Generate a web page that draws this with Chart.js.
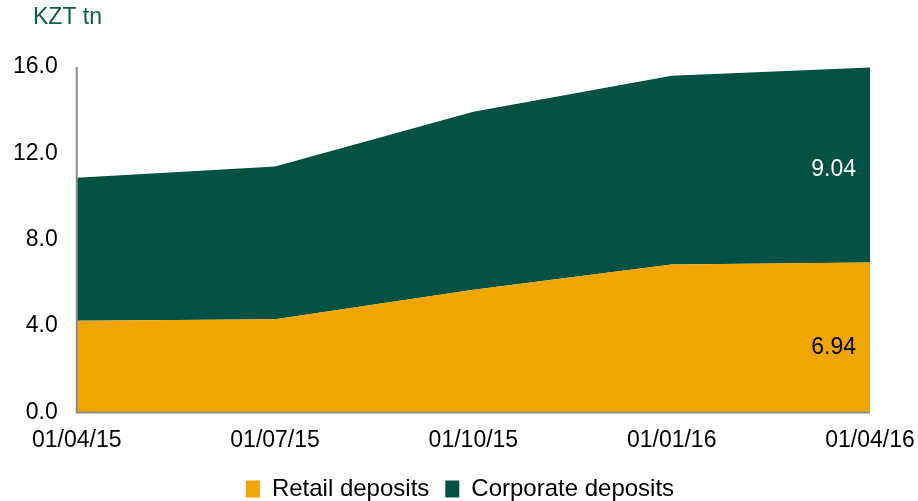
<!DOCTYPE html>
<html><head><meta charset="utf-8">
<script src="https://cdn.jsdelivr.net/npm/chart.js@4"></script>
<style>html,body{margin:0;padding:0;background:#fff}#wrap{width:918px;height:501px}</style>
</head><body><div id="wrap"><canvas id="c" width="918" height="501"></canvas></div>
<script>
const categories = ["01/04/15", "01/07/15", "01/10/15", "01/01/16", "01/04/16"];
const retail = [4.25, 4.32, 5.68, 6.85, 6.94];
const corporate = [6.62, 7.07, 8.25, 8.74, 9.04];
const yTicks = [0, 4, 8, 12, 16];
const unitLabel = "KZT tn";

const FONT = "'Liberation Sans', Arial, sans-serif";

const extras = {
  id: 'extras',
  afterDraw(chart) {
    const ctx = chart.ctx;
    const ca = chart.chartArea;
    const xs = chart.scales.x, ys = chart.scales.y;
    ctx.save();
    ctx.font = "23px " + FONT;
    ctx.fillStyle = "#0B5E4B";
    ctx.textAlign = "left";
    ctx.textBaseline = "middle";
    ctx.fillText(unitLabel, 33, 18);
    ctx.strokeStyle = "#8c8c8c";
    ctx.lineWidth = 2;
    ctx.beginPath();
    ctx.moveTo(ca.left, ys.getPixelForValue(16));
    ctx.lineTo(ca.left, ys.getPixelForValue(0));
    ctx.lineTo(ca.right, ys.getPixelForValue(0));
    ctx.stroke();
    const i = categories.length - 1;
    const xl = xs.getPixelForValue(i) - 14;
    ctx.textAlign = "right";
    ctx.fillStyle = "#000";
    ctx.fillText(retail[i].toFixed(2), xl, ys.getPixelForValue(retail[i] / 2) + 10);
    ctx.fillStyle = "#fff";
    ctx.fillText(corporate[i].toFixed(2), xl, ys.getPixelForValue(retail[i] + corporate[i] / 2) + 5);
    ctx.restore();
  }
};

new Chart(document.getElementById('c'), {
  type: 'line',
  data: {
    labels: categories,
    datasets: [
      { label: 'Retail deposits', data: retail, backgroundColor: '#F0A500', borderColor: '#F0A500', borderWidth: 0, pointRadius: 0, fill: 'origin', tension: 0 },
      { label: 'Corporate deposits', data: corporate, backgroundColor: '#015244', borderColor: '#015244', borderWidth: 0, pointRadius: 0, fill: '-1', tension: 0 }
    ]
  },
  options: {
    responsive: false,
    animation: false,
    layout: { padding: { top: 67, right: 0, left: 2, bottom: -10 } },
    plugins: {
      legend: {
        position: 'bottom',
        labels: {
          font: { size: 24, family: FONT },
          color: '#000',
          boxWidth: 14, boxHeight: 17,
          padding: 16,
          generateLabels(chart) {
            return chart.data.datasets.map((d, i) => ({ text: d.label, fillStyle: d.backgroundColor, strokeStyle: d.backgroundColor, lineWidth: 0, datasetIndex: i }));
          }
        }
      },
      tooltip: { enabled: false }
    },
    scales: {
      x: {
        offset: false,
        grid: { display: false },
        border: { display: false },
        afterFit(scale) { scale.paddingRight = 48; },
        ticks: { font: { size: 23, family: FONT }, color: '#000', maxRotation: 0, padding: 6.5 }
      },
      y: {
        stacked: true,
        min: 0, max: 16,
        afterBuildTicks(axis) { axis.ticks = yTicks.map(v => ({ value: v })); },
        grid: { display: false },
        border: { display: false },
        ticks: { font: { size: 23, family: FONT }, color: '#000', padding: 11, callback: v => Number(v).toFixed(1) }
      }
    }
  },
  plugins: [extras]
});
</script>
</body></html>
